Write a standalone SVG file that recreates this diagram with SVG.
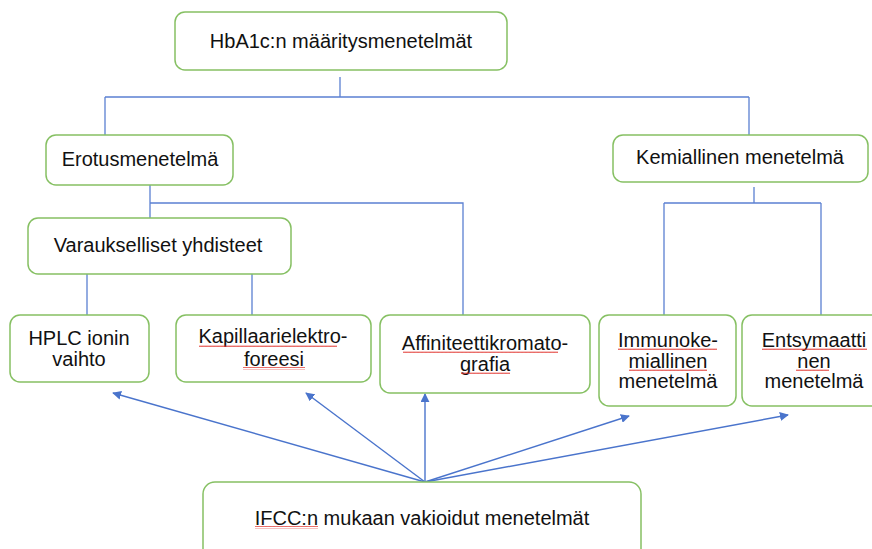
<svg xmlns="http://www.w3.org/2000/svg" width="872" height="549" viewBox="0 0 872 549">
<style>
.box{fill:#fff;stroke:#86c063;stroke-width:1.5}
.t{font-family:"Liberation Sans",Arial,sans-serif;font-size:20px;fill:#111;text-anchor:middle}
.c{fill:none;stroke:#5b80d2;stroke-width:1.3}
.a{fill:none;stroke:#4a74cc;stroke-width:1.4}
.sq{fill:url(#wave)}
</style>
<defs>
<pattern id="wave" patternUnits="userSpaceOnUse" width="4" height="3">
<path d="M0,2 L1,0.6 L2,2 L3,0.6 L4,2" fill="none" stroke="#e0302a" stroke-width="0.8"/>
</pattern>
<marker id="ah" viewBox="0 0 10 10" refX="9" refY="5" markerWidth="9" markerHeight="9" markerUnits="userSpaceOnUse" orient="auto">
<path d="M0,0 L10,5 L0,10 z" fill="#4a74cc"/>
</marker>
</defs>
<rect width="872" height="549" fill="#fff"/>
<g id="connectors">
<path class="c" d="M340,77 V97 M105,97 H749 M105,97 V135 M749,97 V135"/>
<path class="c" d="M150,185 V218 M150,203 H463 V315"/>
<path class="c" d="M87,274 V315 M252,274 V315"/>
<path class="c" d="M754,187 V203 M664,203 H821 M664,203 V315 M821,203 V315"/>
<g class="a" marker-end="url(#ah)">
<line x1="425" y1="482" x2="113" y2="393"/>
<line x1="425" y1="482" x2="306" y2="393"/>
<line x1="425" y1="482" x2="425" y2="394"/>
<line x1="425" y1="482" x2="629" y2="416"/>
<line x1="425" y1="482" x2="788" y2="415"/>
</g>
</g>
<g id="n-top">
<rect class="box" x="175" y="12" width="332" height="58" rx="10"/>
<text class="t" x="341" y="48">HbA1c:n määritysmenetelmät</text>
</g>
<g id="n-erotus">
<rect class="box" x="46" y="135" width="187" height="50" rx="10"/>
<text class="t" x="140" y="166">Erotusmenetelmä</text>
</g>
<g id="n-kemiallinen">
<rect class="box" x="613" y="135" width="255" height="47" rx="10"/>
<text class="t" x="740" y="164">Kemiallinen menetelmä</text>
</g>
<g id="n-varaukselliset">
<rect class="box" x="28" y="218" width="263" height="56" rx="10"/>
<text class="t" x="158" y="252">Varaukselliset yhdisteet</text>
</g>
<g id="n-hplc">
<rect class="box" x="10" y="315" width="139" height="67" rx="10"/>
<text class="t" x="79" y="345">HPLC ionin</text>
<text class="t" x="79" y="366">vaihto</text>
</g>
<g id="n-kapillaari">
<rect class="box" x="176" y="315" width="195" height="67" rx="10"/>
<text class="t" x="273" y="343">Kapillaarielektro-</text>
<text class="t" x="274" y="366">foreesi</text>
<rect class="sq" x="199" y="344" width="138" height="3"/>
<rect class="sq" x="243" y="367" width="62" height="3"/>
</g>
<g id="n-affiniteetti">
<rect class="box" x="380" y="315" width="210" height="78" rx="10"/>
<text class="t" x="485" y="350">Affiniteettikromato-</text>
<text class="t" x="485" y="371">grafia</text>
<rect class="sq" x="403" y="351" width="155" height="3"/>
<rect class="sq" x="461" y="372" width="49" height="3"/>
</g>
<g id="n-immuno">
<rect class="box" x="599" y="315" width="137" height="91" rx="10"/>
<text class="t" x="668" y="347">Immunoke-</text>
<text class="t" x="668" y="368">miallinen</text>
<text class="t" x="668" y="388">menetelmä</text>
<rect class="sq" x="618" y="348" width="99" height="3"/>
<rect class="sq" x="629" y="369" width="78" height="3"/>
</g>
<g id="n-entsymaatti">
<rect class="box" x="742" y="315" width="144" height="91" rx="10"/>
<text class="t" x="814" y="347">Entsymaatti</text>
<text class="t" x="814" y="368">nen</text>
<text class="t" x="814" y="388">menetelmä</text>
<rect class="sq" x="762" y="348" width="105" height="3"/>
<rect class="sq" x="796" y="369" width="33" height="3"/>
</g>
<g id="n-ifcc">
<rect class="box" x="203" y="482" width="438" height="90" rx="12"/>
<text class="t" x="422" y="525">IFCC:n mukaan vakioidut menetelmät</text>
<rect class="sq" x="255" y="526" width="63" height="3"/>
</g>
</svg>
